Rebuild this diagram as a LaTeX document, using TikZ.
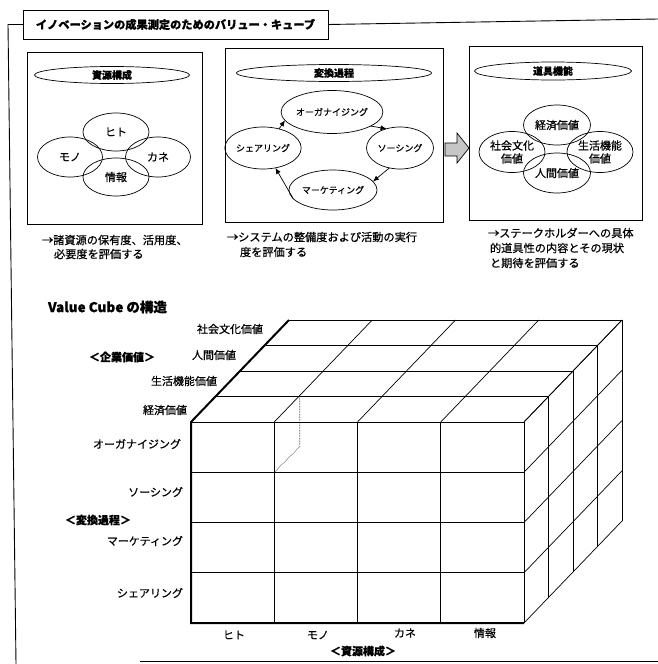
\documentclass[tikz,border=0pt]{standalone}
\usepackage{fontspec}
\setmainfont{Noto Sans CJK JP}[FakeBold=0.6]
\usetikzlibrary{shapes.geometric,arrows.meta}
\begin{document}
\begin{tikzpicture}[x=1pt,y=-1pt,
  every node/.style={inner sep=0pt,outer sep=0pt},
  frm/.style={line width=0.9pt},
  panel/.style={draw,rectangle,line width=0.8pt},
  ell/.style={draw,ellipse,line width=0.7pt},
  hdr/.style={draw,ellipse,line width=0.7pt,font=\fontsize{10}{12}\selectfont\bfseries},
  txt/.style={font=\fontsize{11}{13}\selectfont},
  sm/.style={font=\fontsize{9}{11}\selectfont},
  boldlab/.style={font=\fontsize{11}{13}\selectfont\bfseries},
  capt/.style={font=\fontsize{11.2}{13}\selectfont,anchor=west},
  cgrid/.style={line width=0.7pt},
  thickedge/.style={line width=2pt},
  cyc/.style={-{Latex[length=6pt,width=5pt]},line width=0.7pt}
]
\useasboundingbox (0,0) rectangle (658,664);

% ---------- outer frame and title ----------
\node[draw,line width=0.9pt,minimum width=305pt,minimum height=29pt,
      font=\fontsize{11.2}{13}\selectfont\bfseries] (title) at (175.5,24.5)
      {イノベーションの成果測定のためのバリュー・キューブ};
\coordinate (ftl) at (8,24.5);
\coordinate (fbl) at (16,664);
\coordinate (ftr) at (658,19);
\coordinate (fbs) at (140,661);
\coordinate (fbr) at (658,661);
\draw[frm] (title.west) -- (ftl) -- (fbl);
\draw[frm] (title.east) -- (ftr);
\draw[frm] (fbs) -- (fbr);

% ---------- panel 1 ----------
\node[panel,minimum width=175pt,minimum height=172pt] (p1) at (114.5,138) {};
\node[hdr,minimum width=155pt,minimum height=17pt] (h1) at (112,75) {資源構成};
\node[ell,txt,minimum width=66pt,minimum height=38pt] (hito) at (116,132) {ヒト};
\node[ell,txt,minimum width=65pt,minimum height=40pt] (mono) at (70,157) {モノ};
\node[ell,txt,minimum width=65pt,minimum height=40pt] (kane) at (158,157) {カネ};
\node[ell,txt,minimum width=66pt,minimum height=38pt] (joho) at (116,177) {情報};

% ---------- panel 2 ----------
\node[panel,minimum width=218pt,minimum height=174pt] (p2) at (334,135) {};
\node[hdr,minimum width=195pt,minimum height=17pt] (h2) at (334,73) {変換過程};
\node[ell,sm,minimum width=83pt,minimum height=43pt] (org) at (332,112) {オーガナイジング};
\node[ell,sm,minimum width=67pt,minimum height=42pt] (sou) at (400,148) {ソーシング};
\node[ell,sm,minimum width=73pt,minimum height=42pt] (sha) at (263,148) {シェアリング};
\node[ell,sm,minimum width=72pt,minimum height=40pt] (mkt) at (333,190) {マーケティング};
\draw[cyc] (org.-20) -- (sou.125);
\draw[cyc] (sou.-118) -- (mkt.12);
\draw[cyc] (mkt.192) -- (sha.-58);
\draw[cyc] (sha.50) -- (org.190);

% ---------- big arrow ----------
\coordinate (ba1) at (445,143);
\coordinate (ba2) at (457,143);
\coordinate (ba3) at (457,133);
\coordinate (ba4) at (469,148);
\coordinate (ba5) at (457,163);
\coordinate (ba6) at (457,156);
\coordinate (ba7) at (445,156);
\draw[fill=gray!45,line width=0.7pt] (ba1) -- (ba2) -- (ba3) -- (ba4) -- (ba5) -- (ba6) -- (ba7) -- cycle;

% ---------- panel 3 ----------
\node[panel,minimum width=173pt,minimum height=174pt] (p3) at (555.5,133) {};
\node[hdr,minimum width=157pt,minimum height=18pt] (h3) at (553,71) {道具機能};
\node[ell,txt,minimum width=67pt,minimum height=40pt] (keizai) at (557,125) {経済価値};
\node[ell,txt,minimum width=66pt,minimum height=41pt,align=center] (shakai) at (512,152) {社会文化\\価値};
\node[ell,txt,minimum width=66pt,minimum height=41pt,align=center] (seikatsu) at (600,152) {生活機能\\価値};
\node[ell,txt,minimum width=67pt,minimum height=40pt] (ningen) at (557,173) {人間価値};

% ---------- captions ----------
\node[capt] (c1a) at (42,240) {→諸資源の保有度、活用度、};
\node[capt] (c1b) at (54,254) {必要度を評価する};
\node[capt] (c2a) at (227,237) {→システムの整備度および活動の実行};
\node[capt] (c2b) at (240,252) {度を評価する};
\node[capt] (c3a) at (488,233) {→ステークホルダーへの具体};
\node[capt] (c3b) at (490,248) {的道具性の内容とその現状};
\node[capt] (c3c) at (490,263) {と期待を評価する};

% ---------- value cube ----------
\node[anchor=west,font=\fontsize{13.5}{15}\selectfont\bfseries] (vc) at (48,307) {Value Cube の構造};

% top face
\foreach \k in {0,...,4}
  \draw[cgrid] ({191+24.5*\k},{422-25.5*\k}) -- ({524+24.5*\k},{422-25.5*\k});
\foreach \i in {0,...,4}
  \draw[cgrid] ({191+83.25*\i},422) -- ++(98,-102);
% right face
\foreach \k in {0,...,4}
  \draw[cgrid] ({524+24.5*\k},{422-25.5*\k}) -- ++(0,201);
\foreach \j in {0,...,4}
  \draw[cgrid] (524,{422+50.25*\j}) -- ++(98,-102);
% front face
\foreach \i in {1,...,3}
  \draw[cgrid] ({191+83.25*\i},422) -- ({191+83.25*\i},623);
\foreach \j in {1,...,3}
  \draw[cgrid] (191,{422+50.25*\j}) -- (524,{422+50.25*\j});
% thick edges
\coordinate (cbtl) at (289,320);
\coordinate (cftl) at (191,422);
\coordinate (cfbl) at (191,623);
\coordinate (cfbr) at (524,623);
\draw[thickedge,line join=miter] (cbtl) -- (cftl) -- (cfbl) -- (cfbr);
% hidden edge
\coordinate (hd1) at (299.75,396.5);
\coordinate (hd2) at (299.75,446.75);
\coordinate (hd3) at (274.25,472.25);
\draw[densely dotted,line width=0.6pt] (hd1) -- (hd2) -- (hd3);

% depth labels
\node[txt,anchor=east] (l1) at (187,410) {経済価値};
\node[txt,anchor=east] (l2) at (217,381) {生活機能価値};
\node[txt,anchor=east] (l3) at (236,355) {人間価値};
\node[txt,anchor=east] (l4) at (263,329) {社会文化価値};
\node[boldlab] (lg1) at (122,357) {＜企業価値＞};
% row labels
\node[txt,anchor=east] (r1) at (181,444) {オーガナイジング};
\node[txt,anchor=east] (r2) at (183,492) {ソーシング};
\node[txt,anchor=east] (r3) at (183,541) {マーケティング};
\node[txt,anchor=east] (r4) at (183,593) {シェアリング};
\node[boldlab] (lg2) at (98,520) {＜変換過程＞};
% column labels
\node[txt] (k1) at (234,635) {ヒト};
\node[txt] (k2) at (318,635) {モノ};
\node[txt] (k3) at (405,633) {カネ};
\node[txt] (k4) at (485,633) {情報};
\node[boldlab] (lg3) at (363,651) {＜資源構成＞};
\end{tikzpicture}
\end{document}
